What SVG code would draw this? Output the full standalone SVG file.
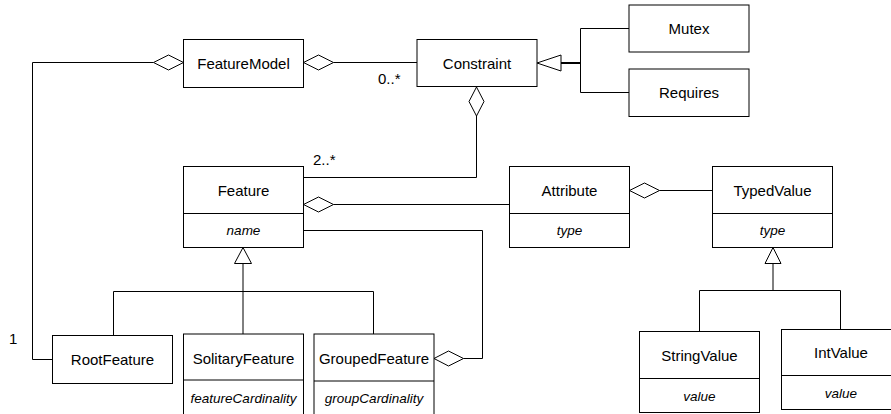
<svg xmlns="http://www.w3.org/2000/svg" width="891" height="414" viewBox="0 0 891 414">
<style>
.box{fill:#fff;stroke:#000;stroke-width:1}
.ln{fill:none;stroke:#000;stroke-width:1}
.dia{fill:#fff;stroke:#000;stroke-width:1}
.t{font-family:"Liberation Sans",Arial,sans-serif;font-size:15px;fill:#000;text-anchor:middle}
.a{font-family:"Liberation Sans",Arial,sans-serif;font-size:13.5px;font-style:italic;fill:#000;text-anchor:middle}
.m{font-family:"Liberation Sans",Arial,sans-serif;font-size:15px;fill:#000}
</style>
<rect width="891" height="414" fill="#fff"/>
<g id="connectors">
  <!-- FeatureModel to RootFeature -->
  <polyline class="ln" points="153.5,62.5 32.5,62.5 32.5,359.5 52.5,359.5"/>
  <polygon class="dia" points="153.5,62.5 168.5,55 183.5,62.5 168.5,70"/>
  <!-- FeatureModel to Constraint -->
  <line class="ln" x1="333.5" y1="62.5" x2="417" y2="62.5"/>
  <polygon class="dia" points="303.5,62.5 318.5,55 333.5,62.5 318.5,70"/>
  <text class="m" x="378" y="84">0..*</text>
  <!-- Constraint generalization -->
  <polyline class="ln" points="629,28.5 580.5,28.5 580.5,92.5 629,92.5"/>
  <line x1="561" y1="63" x2="580.5" y2="63" stroke="#000" stroke-width="2"/>
  <polygon class="dia" points="537,63 561,55 561,71"/>
  <!-- Constraint to Feature -->
  <polyline class="ln" points="476.5,116 476.5,177.5 303.5,177.5"/>
  <polygon class="dia" points="476.5,87 484,101.5 476.5,116 469,101.5"/>
  <text class="m" x="313" y="165">2..*</text>
  <!-- Feature to Attribute -->
  <line class="ln" x1="333.5" y1="204.5" x2="509.5" y2="204.5"/>
  <polygon class="dia" points="303.5,204.5 318.5,197 333.5,204.5 318.5,212"/>
  <!-- Attribute to TypedValue -->
  <line class="ln" x1="659.5" y1="190.5" x2="712.5" y2="190.5"/>
  <polygon class="dia" points="629.5,190.5 644.5,183 659.5,190.5 644.5,198"/>
  <!-- Feature to GroupedFeature -->
  <polyline class="ln" points="303.5,230.5 482.5,230.5 482.5,358.5 463.5,358.5"/>
  <polygon class="dia" points="434,358.5 448.5,351 463.5,358.5 448.5,366"/>
  <!-- Feature generalization -->
  <line class="ln" x1="243" y1="263" x2="243" y2="334"/>
  <polyline class="ln" points="113.5,335.5 113.5,291.5 373.5,291.5 373.5,334"/>
  <polygon class="dia" points="243,247.5 251.5,263.5 234.5,263.5"/>
  <!-- TypedValue generalization -->
  <line class="ln" x1="773" y1="263" x2="773" y2="290.5"/>
  <polyline class="ln" points="699.5,331.5 699.5,290.5 840.5,290.5 840.5,329.5"/>
  <polygon class="dia" points="773,247.5 781,263.5 765,263.5"/>
  <text class="m" x="9" y="344">1</text>
</g>
<g id="FeatureModel">
  <rect class="box" x="183.5" y="39.5" width="120" height="48"/>
  <text class="t" x="243.5" y="68.5">FeatureModel</text>
</g>
<g id="Constraint">
  <rect class="box" x="417" y="39.5" width="120" height="47"/>
  <text class="t" x="477" y="68.5">Constraint</text>
</g>
<g id="Mutex">
  <rect class="box" x="629" y="5" width="120" height="47"/>
  <text class="t" x="689" y="33.5">Mutex</text>
</g>
<g id="Requires">
  <rect class="box" x="629" y="69" width="120" height="47.5"/>
  <text class="t" x="689" y="97.5">Requires</text>
</g>
<g id="Feature">
  <rect class="box" x="183.5" y="166.5" width="120" height="81"/>
  <line class="ln" x1="183.5" y1="213.5" x2="303.5" y2="213.5"/>
  <text class="t" x="243.5" y="195.5">Feature</text>
  <text class="a" x="243.5" y="235">name</text>
</g>
<g id="Attribute">
  <rect class="box" x="509.5" y="166.5" width="120" height="81"/>
  <line class="ln" x1="509.5" y1="213.5" x2="629.5" y2="213.5"/>
  <text class="t" x="569.5" y="195.5">Attribute</text>
  <text class="a" x="569.5" y="235">type</text>
</g>
<g id="TypedValue">
  <rect class="box" x="712.5" y="166.5" width="120" height="81"/>
  <line class="ln" x1="712.5" y1="213.5" x2="832.5" y2="213.5"/>
  <text class="t" x="772.5" y="195.5">TypedValue</text>
  <text class="a" x="772.5" y="235">type</text>
</g>
<g id="RootFeature">
  <rect class="box" x="52.5" y="335.5" width="120" height="48"/>
  <text class="t" x="112.5" y="364.5">RootFeature</text>
</g>
<g id="SolitaryFeature">
  <rect class="box" x="183.5" y="334" width="120" height="90"/>
  <line class="ln" x1="183.5" y1="380" x2="303.5" y2="380"/>
  <text class="t" x="243.5" y="363.5">SolitaryFeature</text>
  <text class="a" x="243.5" y="402.5">featureCardinality</text>
</g>
<g id="GroupedFeature">
  <rect class="box" x="314" y="334" width="120" height="90"/>
  <line class="ln" x1="314" y1="381" x2="434" y2="381"/>
  <text class="t" x="374" y="363.5">GroupedFeature</text>
  <text class="a" x="374" y="402.5">groupCardinality</text>
</g>
<g id="StringValue">
  <rect class="box" x="639.5" y="331.5" width="120" height="81"/>
  <line class="ln" x1="639.5" y1="378.5" x2="759.5" y2="378.5"/>
  <text class="t" x="699.5" y="361">StringValue</text>
  <text class="a" x="699.5" y="400.5">value</text>
</g>
<g id="IntValue">
  <rect class="box" x="781.5" y="329.5" width="120" height="80"/>
  <line class="ln" x1="781.5" y1="375.5" x2="901.5" y2="375.5"/>
  <text class="t" x="841" y="358">IntValue</text>
  <text class="a" x="841" y="397.5">value</text>
</g>
</svg>
